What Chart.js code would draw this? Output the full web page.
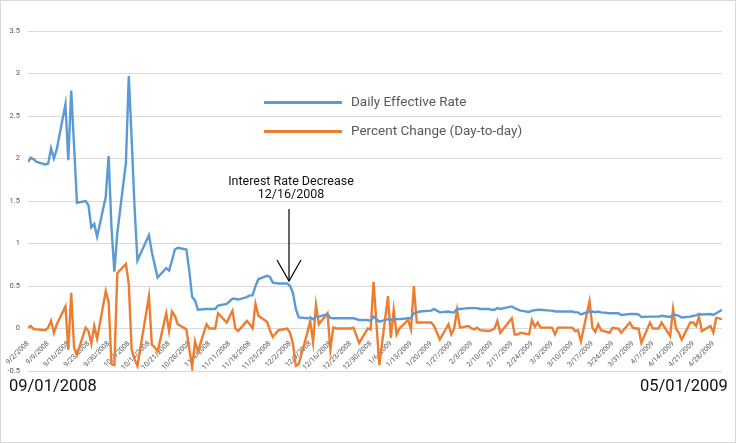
<!DOCTYPE html>
<html>
<head>
<meta charset="utf-8">
<script src="https://cdn.jsdelivr.net/npm/chart.js@4.4.1/dist/chart.umd.min.js"></script>
<style>
  html, body { margin: 0; padding: 0; background: #fff; }
  #wrap { position: relative; width: 736px; height: 443px; box-sizing: border-box; border: 1px solid #d9d9d9; overflow: hidden; font-family: Roboto, "Liberation Sans", sans-serif; }
  #myChart { position: absolute; left: -1px; top: -1px; }
  .leg { position: absolute; left: 263px; font-size: 13.5px; color: #595959; line-height: 16px; }
  .leg i { display: inline-block; width: 78px; height: 2.5px; vertical-align: middle; margin-right: 9px; }
  .note { position: absolute; left: 200px; width: 180px; top: 173px; text-align: center; font-size: 12.5px; line-height: 13px; color: #111; }
  .dt { position: absolute; top: 375px; font-size: 16.5px; color: #111; }
  svg { position: absolute; left: -1px; top: -1px; }
</style>
</head>
<body>
<div id="wrap">
  <canvas id="myChart" width="736" height="443"></canvas>
  <div class="leg" style="top:92px"><i style="background:#5B9BD5"></i>Daily Effective Rate</div>
  <div class="leg" style="top:121px"><i style="background:#ED7D31"></i>Percent Change (Day-to-day)</div>
  <div class="note">Interest Rate Decrease<br>12/16/2008</div>
  <svg width="736" height="443">
    <polyline points="289,209 289,281" stroke="#000" stroke-width="1.2" fill="none"/>
    <polyline points="277,260 289,281 301,260" stroke="#000" stroke-width="1.2" fill="none"/>
  </svg>
  <div class="dt" style="left:8px">09/01/2008</div>
  <div class="dt" style="left:639px">05/01/2009</div>
</div>
<script>
  // business days from 9/2/2008 to 5/1/2009, one row per week (null = holiday)
  const rate = [
    1.96, 2.01, 1.99, 1.96,
    1.93, 1.94, 2.12, 2.00, 2.11,
    2.64, 1.98, 2.80, 2.15, 1.48,
    1.50, 1.45, 1.19, 1.23, 1.08,
    1.55, 2.03, 1.18, 0.67, 1.12,
    1.95, 2.97, 2.23, 1.43, 0.80,
    null, 1.10, 0.90, 0.75, 0.60,
    0.71, 0.68, 0.80, 0.93, 0.95,
    0.93, 0.68, 0.37, 0.33, 0.22,
    0.23, 0.23, 0.23, 0.23, 0.27,
    0.29, null, 0.35, 0.35, 0.34,
    0.37, 0.39, 0.39, 0.50, 0.58,
    0.62, 0.61, 0.54, null, 0.53,
    0.53, 0.50, 0.42, 0.23, 0.13,
    0.12, 0.13, 0.11, 0.14, 0.14,
    0.17, 0.125, 0.12, 0.12, 0.12,
    0.12, 0.12, 0.12, null, 0.10,
    0.10, 0.09, 0.14, null, 0.08,
    0.11, 0.10, 0.12, 0.11, 0.11,
    0.12, 0.12, 0.18, 0.19, 0.20,
    null, 0.21, 0.23, 0.21, 0.19,
    0.20, 0.19, 0.19, 0.23, 0.23,
    0.24, 0.24, 0.24, 0.24, 0.23,
    0.23, 0.22, 0.22, 0.24, 0.23,
    null, 0.26, 0.24, 0.225, 0.21,
    0.195, 0.21, 0.215, 0.22, 0.22,
    0.21, 0.21, 0.20, 0.20, 0.20,
    0.20, 0.20, 0.19, 0.19, 0.165,
    0.20, 0.20, 0.19, 0.20, 0.19,
    0.18, 0.18, 0.18, 0.18, 0.16,
    0.17, 0.17, 0.17, 0.165, 0.135,
    0.14, 0.14, 0.14, 0.14, 0.15,
    0.135, 0.16, 0.16, 0.15, 0.13,
    0.14, 0.15, 0.155, 0.17, 0.165,
    0.17, 0.16, 0.18, 0.20, 0.22
  ];
  const change = [
    0.01, 0.03, -0.01, -0.01,
    -0.02, 0.01, 0.09, -0.05, 0.05,
    0.26, -0.25, 0.42, -0.23, -0.31,
    0.01, -0.03, -0.18, 0.03, -0.12,
    0.44, 0.31, -0.42, -0.43, 0.65,
    0.76, 0.52, -0.25, -0.36, -0.44,
    null, 0.38, -0.19, -0.22, -0.27,
    0.18, -0.03, 0.20, 0.15, 0.05,
    -0.01, -0.24, -0.46, -0.15, -0.27,
    0.05, 0.00, 0.00, 0.00, 0.18,
    0.07, null, 0.21, 0.00, -0.03,
    0.09, 0.05, 0.00, 0.29, 0.15,
    0.08, -0.02, -0.10, null, -0.02,
    0.00, -0.05, -0.18, -0.44, -0.42,
    -0.05, 0.09, -0.16, 0.28, 0.05,
    0.18, -0.25, 0.01, 0.00, 0.00,
    0.00, 0.00, 0.01, null, -0.17,
    0.00, -0.01, 0.55, null, -0.43,
    0.38, -0.11, 0.22, -0.07, 0.00,
    0.10, -0.01, 0.50, 0.07, 0.07,
    null, 0.07, 0.03, -0.05, -0.13,
    0.05, -0.07, 0.00, 0.22, 0.01,
    0.03, 0.00, -0.01, 0.01, -0.02,
    -0.03, -0.02, 0.00, 0.09, -0.05,
    null, 0.12, -0.07, -0.07, -0.05,
    -0.07, 0.10, 0.02, 0.07, 0.01,
    0.01, 0.01, -0.07, 0.01, 0.01,
    0.01, 0.01, -0.03, -0.02, -0.15,
    0.32, 0.01, -0.04, 0.05, -0.02,
    -0.05, 0.01, 0.00, 0.00, -0.05,
    0.07, 0.01, 0.00, 0.00, -0.17,
    0.07, 0.00, 0.00, 0.00, 0.07,
    -0.09, 0.23, 0.00, -0.05, -0.13,
    0.07, 0.07, 0.03, 0.14, -0.03,
    0.03, -0.05, 0.125, 0.12, 0.11
  ];
  const seriesNames = ['Daily Effective Rate', 'Percent Change (Day-to-day)'];
  const colors = ['#5B9BD5', '#ED7D31'];
  const lastDay = 241; // 5/1/2009, days after 9/2/2008
  const yTicks = [-0.5, 0, 0.5, 1, 1.5, 2, 2.5, 3, 3.5];

  function dayDate(d) { return new Date(2008, 8, 2 + d); }
  function dayLabel(d) {
    const t = dayDate(d);
    return (t.getMonth() + 1) + '/' + t.getDate() + '/' + t.getFullYear();
  }

  const tradingDays = [];
  for (let d = 0; d <= lastDay; d++) {
    const wd = dayDate(d).getDay();
    if (wd !== 0 && wd !== 6) tradingDays.push(d);
  }

  const ctx = document.getElementById('myChart');
  const myChart = new Chart(ctx, {
    type: 'line',
    data: {
      datasets: [rate, change].map((vals, i) => ({
        label: seriesNames[i],
        data: vals.map((v, k) => ({ x: tradingDays[k], y: v })),
        borderColor: colors[i],
        backgroundColor: colors[i],
        borderWidth: 2.4,
        pointRadius: 0,
        tension: 0,
        spanGaps: true,
        fill: false
      }))
    },
    options: {
      responsive: false,
      animation: false,
      layout: { padding: { left: 0, right: 14, top: 31, bottom: 72 } },
      plugins: { legend: { display: false }, tooltip: { enabled: false } },
      scales: {
        x: {
          type: 'linear',
          position: { y: 0 },
          min: 0,
          max: lastDay,
          grid: { display: false },
          border: { display: false },
          ticks: {
            stepSize: 7,
            includeBounds: false,
            autoSkip: false,
            minRotation: 45,
            maxRotation: 45,
            padding: 3,
            color: '#595959',
            font: { family: 'Roboto', size: 7 },
            callback: v => dayLabel(v)
          }
        },
        y: {
          min: yTicks[0],
          max: yTicks[yTicks.length - 1],
          afterFit: s => { s.width = 28; },
          grid: { color: '#d9d9d9', drawTicks: false },
          border: { display: false },
          ticks: {
            stepSize: 0.5,
            padding: 8,
            color: '#595959',
            font: { family: 'Roboto', size: 7.5 },
            callback: v => String(v)
          }
        }
      }
    }
  });
</script>
</body>
</html>
